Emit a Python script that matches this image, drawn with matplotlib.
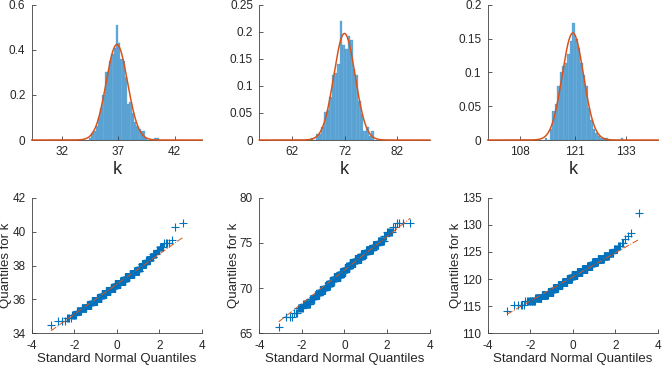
import numpy as np
import matplotlib
matplotlib.use('Agg')
import matplotlib.pyplot as plt
from statistics import NormalDist

plt.rcParams['font.family'] = ['Liberation Sans', 'DejaVu Sans']
plt.rcParams['axes.unicode_minus'] = False

# histogram data: left edge of first bin, bin width, counts per bin (500 samples each)
start1 = 34.4
width1 = 0.2
counts1 = [1, 3, 4, 6, 10, 14, 20, 30, 30, 35, 38, 41, 51, 43, 36, 35, 28, 16,
           17, 12, 8, 6, 5, 4, 4, 1, 0, 0, 0, 1, 1]

start2 = 65.5
width2 = 0.5
counts2 = [1, 0, 3, 3, 6, 13, 14, 20, 30, 31, 35, 55, 44, 42, 48, 46, 33, 30,
           18, 12, 4, 6, 2, 4]

start3 = 113.8
width3 = 0.6
counts3 = [1, 0, 5, 13, 16, 24, 30, 33, 34, 38, 44, 52, 45, 41, 34, 29, 24, 14,
           9, 5, 3, 2, 1, 1, 1, 0, 0, 0, 0, 0, 1]

hist_xticks = [[32, 37, 42], [62, 72, 82], [108, 121, 133]]
hist_yticks = [[0, 0.2, 0.4, 0.6], [0, 0.05, 0.1, 0.15, 0.2, 0.25], [0, 0.05, 0.1, 0.15, 0.2]]
qq_xticks = [-4, -2, 0, 2, 4]
qq_yticks = [[34, 36, 38, 40, 42], [65, 70, 75, 80], [110, 115, 120, 125, 130, 135]]

blue = '#0072BD'
red = '#D95319'
axcol = '#404040'

fig = plt.figure(figsize=(6.62, 3.65), dpi=100)

lefts = [0.0479, 0.3917, 0.7367]
w = 0.2573
datasets = [(start1, width1, counts1), (start2, width2, counts2), (start3, width3, counts3)]


def style(ax):
    for s in ['top', 'right']:
        ax.spines[s].set_visible(False)
    for s in ['left', 'bottom']:
        ax.spines[s].set_color(axcol)
        ax.spines[s].set_linewidth(0.6)
    ax.tick_params(direction='in', length=3, width=0.6, color=axcol,
                   labelcolor='#262626', labelsize=8.5, pad=4.5)
    ax.patch.set_alpha(0)


nd = NormalDist()
for i, (start, bw, counts) in enumerate(datasets):
    counts = np.array(counts)
    edges = start + bw * np.arange(len(counts) + 1)
    centers = edges[:-1] + bw / 2
    k = np.repeat(centers, counts)
    n = len(k)
    mu = k.mean()
    sd = k.std(ddof=1)

    # histogram + fitted normal
    ax = fig.add_axes([lefts[i], 0.6164, w, 0.3707])
    style(ax)
    ax.hist(k, bins=edges, density=True, color=blue, alpha=0.6,
            edgecolor='#3d8fc9', linewidth=0.3)
    xs = np.linspace(mu - 8 * sd, mu + 8 * sd, 500)
    pdf = np.exp(-0.5 * ((xs - mu) / sd) ** 2) / (sd * np.sqrt(2 * np.pi))
    ax.plot(xs, pdf, color=red, lw=1.1, clip_on=False, zorder=5)
    ax.set_xlim(mu - 8 * sd, mu + 8 * sd)
    ax.set_ylim(hist_yticks[i][0], hist_yticks[i][-1])
    ax.set_xticks(hist_xticks[i])
    ax.set_yticks(hist_yticks[i])
    ax.set_yticklabels(['%g' % t for t in hist_yticks[i]])
    ax.set_xlabel('k', fontsize=13, color='#262626', labelpad=2)

    # normal probability plot
    ax2 = fig.add_axes([lefts[i], 0.0868, w, 0.3715])
    style(ax2)
    ks = np.sort(k)
    z = np.array([nd.inv_cdf((j - 0.5) / n) for j in range(1, n + 1)])
    ax2.plot(z, ks, '+', color=blue, ms=5.5, mew=0.8)
    q1, q3 = np.percentile(k, [25, 75])
    z1, z3 = nd.inv_cdf(0.25), nd.inv_cdf(0.75)
    slope = (q3 - q1) / (z3 - z1)
    lx = np.array([z[0], z[-1]])
    ax2.plot(lx, q1 + slope * (lx - z1), '-.', color=red, lw=0.7)
    ax2.set_xlim(-4, 4)
    ax2.set_ylim(qq_yticks[i][0], qq_yticks[i][-1])
    ax2.set_xticks(qq_xticks)
    ax2.set_yticks(qq_yticks[i])
    ax2.set_xlabel('Standard Normal Quantiles', fontsize=9.5, color='#262626', labelpad=1)
    ax2.set_ylabel('Quantiles for k', fontsize=9.5, color='#262626', labelpad=0)

fig.savefig('out.png', dpi=100)
